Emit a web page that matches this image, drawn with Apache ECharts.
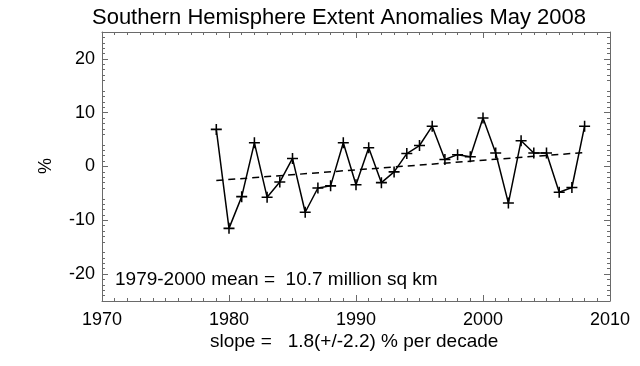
<!DOCTYPE html>
<html>
<head>
<meta charset="utf-8">
<script src="https://cdn.jsdelivr.net/npm/echarts@6/dist/echarts.min.js"></script>
<style>html,body{margin:0;padding:0;background:#fff}#c{width:640px;height:366px}</style>
</head>
<body>
<div id="c"></div>
<script>
var years = [1979,1980,1981,1982,1983,1984,1985,1986,1987,1988,1989,1990,1991,1992,1993,1994,1995,1996,1997,1998,1999,2000,2001,2002,2003,2004,2005,2006,2007,2008];
var anomalies = [6.9,-11.5,-5.6,4.4,-5.7,-2.9,1.5,-8.5,-4.0,-3.6,4.4,-3.4,3.5,-3.0,-1.0,2.4,3.9,7.5,1.3,2.2,1.8,9.0,2.5,-6.8,4.8,2.5,2.5,-4.8,-3.9,7.5];
var trendYears = [1979, 2008];
var trendValues = [-2.6, 2.6];
var yTickLabels = [-20,-10,0,10,20];
var xTickLabels = [1970,1980,1990,2000,2010];
var titleText = 'Southern Hemisphere Extent Anomalies May 2008';
var meanText = '1979-2000 mean =  10.7 million sq km';
var slopeText = 'slope =   1.8(+/-2.2) % per decade';
var yName = '%';

var FONT = 'Liberation Sans, Arial, sans-serif';
var AX = '#6a6a6a';
var chart = echarts.init(document.getElementById('c'), null, {renderer:'canvas'});

function xAx(pos, showLabel){
  return {
    type:'value', position:pos, min:1970, max:2010, interval:10,
    axisLine:{show:true, onZero:false, lineStyle:{color:AX, width:1}},
    axisTick:{show:true, inside:true, length:6, lineStyle:{color:AX}},
    minorTick:{show:true, splitNumber:10, length:3, lineStyle:{color:AX}},
    splitLine:{show:false},
    axisLabel:{show:showLabel, color:'#000', fontSize:18, fontFamily:FONT, margin:10,
      formatter:function(v){ return xTickLabels.indexOf(v) >= 0 ? String(v) : ''; }}
  };
}
function yAx(pos, showLabel){
  return {
    type:'value', position:pos, min:-25, max:25, interval:5,
    axisLine:{show:true, onZero:false, lineStyle:{color:AX, width:1}},
    axisTick:{show:true, inside:true, length:6, customValues:yTickLabels, lineStyle:{color:AX}},
    minorTick:{show:true, splitNumber:5, length:3, lineStyle:{color:AX}},
    splitLine:{show:false},
    axisLabel:{show:showLabel, color:'#000', fontSize:18, fontFamily:FONT, margin:7,
      customValues:yTickLabels,
      formatter:function(v){ return String(v); }}
  };
}

var plus = 'path://M4.3,0 H5.7 V4.3 H10 V5.7 H5.7 V10 H4.3 V5.7 H0 V4.3 H4.3 Z';

chart.setOption({
  animation:false,
  backgroundColor:'#fff',
  grid:{left:102, right:30, top:32, bottom:65, containLabel:false},
  xAxis:[xAx('bottom', true), xAx('top', false)],
  yAxis:[yAx('left', true), yAx('right', false)],
  title:{text:titleText, left:334, textAlign:'center', top:2,
    textStyle:{fontSize:22, fontWeight:'normal', color:'#000', fontFamily:FONT}},
  graphic:[
    {type:'text', left:115, top:270, style:{text:meanText, fontSize:19, fontFamily:FONT, fill:'#000'}},
    {type:'text', left:210, top:332, style:{text:slopeText, fontSize:19, fontFamily:FONT, fill:'#000'}},
    {type:'text', x:46, y:166, rotation:Math.PI/2, style:{text:yName, fontSize:18, fontFamily:FONT, fill:'#000', align:'center', verticalAlign:'middle'}}
  ],
  series:[
    {type:'line', xAxisIndex:0, yAxisIndex:0,
      data:years.map(function(y,i){return [y, anomalies[i]];}),
      symbol:plus, symbolSize:11, showAllSymbol:true,
      itemStyle:{color:'#000'}, lineStyle:{color:'#000', width:1.5}},
    {type:'line', xAxisIndex:0, yAxisIndex:0,
      data:trendYears.map(function(y,i){return [y, trendValues[i]];}),
      symbol:'none', lineStyle:{color:'#000', width:1.5, type:[7,5]}}
  ]
});
</script>
</body>
</html>
